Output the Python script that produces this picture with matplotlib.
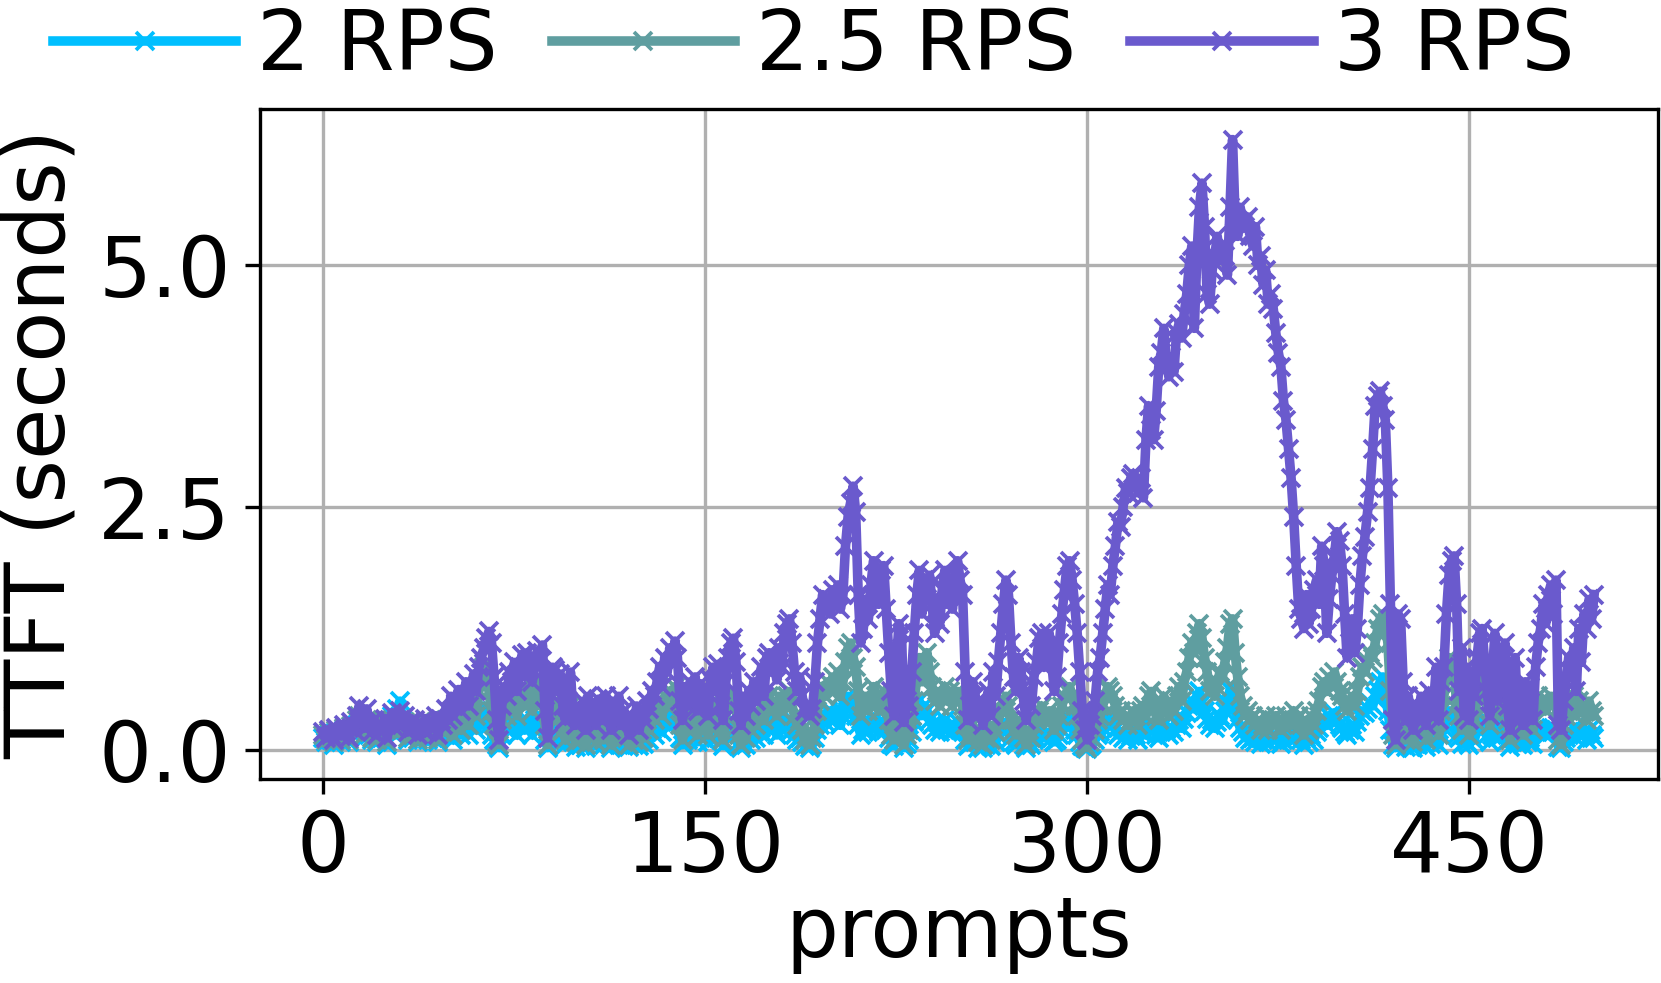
import numpy as np
import matplotlib
matplotlib.use("Agg")
import matplotlib.pyplot as plt

labels = ["2 RPS", "2.5 RPS", "3 RPS"]
colors = ["deepskyblue", "cadetblue", "slateblue"]

# TTFT per prompt, 2 RPS
ttft_2 = [
    0.12, 0.08, 0.15, 0.10, 0.05, 0.18, 0.12, 0.08, 0.20, 0.14, 0.08, 0.20, 0.15, 0.25, 0.30, 0.22, 0.12, 0.28, 0.18, 0.10,
    0.22, 0.08, 0.18, 0.12, 0.25, 0.05, 0.20, 0.35, 0.15, 0.42, 0.50, 0.30, 0.25, 0.10, 0.18, 0.12, 0.20, 0.08, 0.18, 0.12,
    0.20, 0.10, 0.18, 0.12, 0.22, 0.08, 0.18, 0.15, 0.25, 0.15, 0.25, 0.10, 0.22, 0.30, 0.15, 0.25, 0.30, 0.15, 0.35, 0.30,
    0.20, 0.30, 0.35, 0.45, 0.30, 0.25, 0.15, 0.10, 0.05, 0.02, 0.15, 0.25, 0.20, 0.30, 0.20, 0.35, 0.15, 0.25, 0.30, 0.20,
    0.30, 0.25, 0.15, 0.30, 0.35, 0.25, 0.30, 0.10, 0.02, 0.15, 0.20, 0.30, 0.15, 0.20, 0.10, 0.05, 0.12, 0.25, 0.08, 0.03,
    0.10, 0.05, 0.15, 0.02, 0.18, 0.08, 0.12, 0.04, 0.15, 0.10, 0.05, 0.15, 0.10, 0.02, 0.12, 0.08, 0.18, 0.05, 0.10, 0.06,
    0.03, 0.08, 0.05, 0.15, 0.04, 0.10, 0.06, 0.18, 0.10, 0.20, 0.15, 0.22, 0.30, 0.18, 0.30, 0.25, 0.35, 0.25, 0.30, 0.28,
    0.12, 0.05, 0.18, 0.10, 0.20, 0.15, 0.22, 0.08, 0.18, 0.12, 0.15, 0.08, 0.20, 0.25, 0.12, 0.22, 0.10, 0.04, 0.15, 0.25,
    0.30, 0.28, 0.20, 0.08, 0.02, 0.12, 0.05, 0.15, 0.10, 0.18, 0.12, 0.18, 0.22, 0.15, 0.25, 0.30, 0.20, 0.22, 0.15, 0.28,
    0.20, 0.25, 0.30, 0.28, 0.20, 0.15, 0.10, 0.12, 0.08, 0.04, 0.06, 0.02, 0.05, 0.12, 0.20, 0.25, 0.35, 0.28, 0.40, 0.30,
    0.38, 0.30, 0.42, 0.25, 0.35, 0.45, 0.55, 0.50, 0.40, 0.35, 0.25, 0.15, 0.20, 0.28, 0.18, 0.22, 0.30, 0.25, 0.18, 0.22,
    0.28, 0.20, 0.12, 0.06, 0.04, 0.12, 0.20, 0.18, 0.02, 0.06, 0.10, 0.18, 0.28, 0.40, 0.50, 0.35, 0.45, 0.40, 0.30, 0.25,
    0.20, 0.28, 0.18, 0.22, 0.30, 0.20, 0.25, 0.18, 0.22, 0.28, 0.20, 0.18, 0.10, 0.04, 0.06, 0.12, 0.08, 0.02, 0.06, 0.02,
    0.05, 0.10, 0.04, 0.12, 0.08, 0.15, 0.20, 0.25, 0.28, 0.20, 0.12, 0.08, 0.05, 0.12, 0.10, 0.05, 0.02, 0.08, 0.05, 0.10,
    0.12, 0.18, 0.22, 0.12, 0.15, 0.18, 0.12, 0.08, 0.10, 0.15, 0.20, 0.25, 0.30, 0.32, 0.25, 0.20, 0.15, 0.08, 0.04, 0.02,
    0.01, 0.04, 0.06, 0.10, 0.15, 0.18, 0.22, 0.28, 0.32, 0.30, 0.25, 0.20, 0.15, 0.18, 0.12, 0.15, 0.10, 0.14, 0.18, 0.15,
    0.10, 0.18, 0.20, 0.15, 0.25, 0.28, 0.20, 0.15, 0.12, 0.18, 0.25, 0.20, 0.15, 0.22, 0.18, 0.25, 0.30, 0.22, 0.32, 0.38,
    0.45, 0.50, 0.42, 0.55, 0.60, 0.48, 0.40, 0.32, 0.25, 0.30, 0.22, 0.28, 0.35, 0.30, 0.40, 0.48, 0.62, 0.65, 0.45, 0.32,
    0.22, 0.18, 0.12, 0.15, 0.10, 0.12, 0.08, 0.12, 0.06, 0.10, 0.15, 0.08, 0.12, 0.10, 0.15, 0.12, 0.06, 0.10, 0.15, 0.12,
    0.10, 0.18, 0.12, 0.15, 0.10, 0.05, 0.12, 0.08, 0.15, 0.10, 0.18, 0.22, 0.30, 0.32, 0.25, 0.35, 0.28, 0.38, 0.30, 0.25,
    0.22, 0.18, 0.15, 0.20, 0.25, 0.18, 0.28, 0.35, 0.40, 0.38, 0.42, 0.48, 0.45, 0.55, 0.62, 0.70, 0.75, 0.60, 0.40, 0.20,
    0.05, 0.02, 0.10, 0.15, 0.08, 0.03, 0.10, 0.05, 0.02, 0.08, 0.05, 0.12, 0.06, 0.03, 0.12, 0.06, 0.10, 0.18, 0.05, 0.15,
    0.22, 0.35, 0.40, 0.38, 0.35, 0.15, 0.12, 0.06, 0.15, 0.08, 0.05, 0.12, 0.10, 0.22, 0.28, 0.32, 0.25, 0.15, 0.08, 0.15,
    0.25, 0.12, 0.20, 0.18, 0.22, 0.10, 0.03, 0.12, 0.18, 0.06, 0.10, 0.05, 0.15, 0.08, 0.12, 0.06, 0.18, 0.22, 0.20, 0.18,
    0.15, 0.20, 0.22, 0.18, 0.20, 0.03, 0.02, 0.08, 0.12, 0.15, 0.18, 0.22, 0.12, 0.20, 0.15, 0.18, 0.10, 0.20, 0.15, 0.12,
]

# TTFT per prompt, 2.5 RPS
ttft_25 = [
    0.15, 0.10, 0.18, 0.12, 0.08, 0.20, 0.14, 0.10, 0.22, 0.16, 0.10, 0.24, 0.18, 0.30, 0.35, 0.25, 0.15, 0.30, 0.20, 0.12,
    0.25, 0.10, 0.20, 0.15, 0.28, 0.08, 0.22, 0.30, 0.18, 0.25, 0.30, 0.20, 0.28, 0.12, 0.22, 0.15, 0.25, 0.10, 0.20, 0.15,
    0.25, 0.12, 0.20, 0.15, 0.28, 0.10, 0.22, 0.18, 0.30, 0.20, 0.35, 0.15, 0.30, 0.40, 0.20, 0.35, 0.45, 0.25, 0.50, 0.55,
    0.35, 0.60, 0.70, 0.85, 0.75, 0.60, 0.40, 0.25, 0.08, 0.05, 0.30, 0.45, 0.35, 0.55, 0.40, 0.60, 0.35, 0.50, 0.65, 0.45,
    0.60, 0.50, 0.40, 0.55, 0.70, 0.50, 0.60, 0.25, 0.05, 0.35, 0.45, 0.50, 0.30, 0.40, 0.20, 0.10, 0.25, 0.45, 0.15, 0.08,
    0.20, 0.10, 0.25, 0.05, 0.30, 0.15, 0.25, 0.08, 0.30, 0.20, 0.10, 0.30, 0.20, 0.05, 0.25, 0.15, 0.30, 0.10, 0.20, 0.12,
    0.05, 0.15, 0.10, 0.25, 0.08, 0.20, 0.12, 0.30, 0.20, 0.35, 0.30, 0.40, 0.50, 0.35, 0.55, 0.45, 0.60, 0.50, 0.65, 0.55,
    0.25, 0.10, 0.35, 0.20, 0.40, 0.30, 0.45, 0.15, 0.40, 0.25, 0.35, 0.15, 0.40, 0.50, 0.30, 0.45, 0.20, 0.10, 0.35, 0.50,
    0.55, 0.60, 0.45, 0.15, 0.05, 0.25, 0.12, 0.30, 0.20, 0.35, 0.25, 0.35, 0.45, 0.30, 0.50, 0.55, 0.40, 0.45, 0.35, 0.55,
    0.40, 0.50, 0.55, 0.60, 0.45, 0.35, 0.25, 0.30, 0.20, 0.10, 0.15, 0.05, 0.12, 0.25, 0.40, 0.50, 0.65, 0.55, 0.70, 0.60,
    0.75, 0.60, 0.80, 0.55, 0.70, 0.90, 1.05, 1.10, 0.95, 0.85, 0.60, 0.35, 0.45, 0.55, 0.40, 0.50, 0.65, 0.55, 0.40, 0.50,
    0.60, 0.45, 0.30, 0.15, 0.10, 0.30, 0.45, 0.40, 0.05, 0.15, 0.20, 0.35, 0.50, 0.75, 0.95, 0.70, 0.85, 1.00, 0.80, 0.65,
    0.50, 0.60, 0.45, 0.55, 0.65, 0.50, 0.60, 0.45, 0.55, 0.60, 0.50, 0.45, 0.25, 0.10, 0.15, 0.25, 0.20, 0.08, 0.15, 0.05,
    0.12, 0.20, 0.10, 0.25, 0.18, 0.30, 0.40, 0.50, 0.55, 0.45, 0.30, 0.20, 0.15, 0.30, 0.25, 0.12, 0.05, 0.20, 0.12, 0.25,
    0.30, 0.40, 0.45, 0.30, 0.35, 0.40, 0.30, 0.20, 0.25, 0.35, 0.45, 0.55, 0.60, 0.65, 0.55, 0.45, 0.35, 0.20, 0.10, 0.05,
    0.02, 0.08, 0.12, 0.20, 0.30, 0.35, 0.45, 0.55, 0.65, 0.60, 0.55, 0.45, 0.35, 0.40, 0.30, 0.35, 0.25, 0.30, 0.40, 0.35,
    0.25, 0.40, 0.45, 0.35, 0.55, 0.60, 0.45, 0.35, 0.30, 0.40, 0.55, 0.45, 0.35, 0.50, 0.40, 0.55, 0.65, 0.50, 0.70, 0.80,
    0.95, 1.10, 1.00, 1.20, 1.30, 1.15, 0.95, 0.80, 0.60, 0.70, 0.55, 0.65, 0.80, 0.75, 0.90, 1.05, 1.30, 1.35, 1.00, 0.75,
    0.55, 0.45, 0.35, 0.40, 0.30, 0.35, 0.25, 0.30, 0.20, 0.25, 0.35, 0.20, 0.30, 0.25, 0.35, 0.30, 0.20, 0.25, 0.35, 0.30,
    0.25, 0.40, 0.30, 0.35, 0.25, 0.15, 0.30, 0.20, 0.35, 0.25, 0.40, 0.50, 0.65, 0.70, 0.60, 0.75, 0.65, 0.80, 0.70, 0.60,
    0.55, 0.45, 0.40, 0.50, 0.55, 0.45, 0.60, 0.75, 0.85, 0.80, 0.90, 1.00, 0.95, 1.10, 1.25, 1.35, 1.40, 1.30, 1.10, 0.60,
    0.15, 0.05, 0.30, 0.40, 0.25, 0.10, 0.30, 0.15, 0.08, 0.25, 0.15, 0.30, 0.20, 0.10, 0.35, 0.20, 0.30, 0.45, 0.15, 0.40,
    0.55, 0.80, 0.95, 0.90, 0.85, 0.45, 0.35, 0.20, 0.40, 0.25, 0.15, 0.35, 0.30, 0.55, 0.70, 0.80, 0.65, 0.45, 0.25, 0.40,
    0.65, 0.35, 0.55, 0.50, 0.60, 0.30, 0.10, 0.35, 0.50, 0.20, 0.30, 0.15, 0.40, 0.25, 0.35, 0.20, 0.45, 0.55, 0.50, 0.45,
    0.40, 0.50, 0.55, 0.45, 0.50, 0.10, 0.05, 0.25, 0.35, 0.40, 0.45, 0.55, 0.35, 0.50, 0.40, 0.45, 0.30, 0.50, 0.40, 0.35,
]

# TTFT per prompt, 3 RPS
ttft_3 = [
    0.18, 0.12, 0.20, 0.15, 0.10, 0.22, 0.17, 0.14, 0.25, 0.19, 0.12, 0.28, 0.20, 0.35, 0.45, 0.30, 0.22, 0.42, 0.25, 0.18,
    0.30, 0.15, 0.25, 0.20, 0.32, 0.12, 0.28, 0.38, 0.22, 0.30, 0.40, 0.25, 0.35, 0.18, 0.28, 0.22, 0.30, 0.15, 0.26, 0.20,
    0.32, 0.18, 0.28, 0.22, 0.35, 0.15, 0.30, 0.25, 0.42, 0.30, 0.55, 0.35, 0.48, 0.62, 0.40, 0.55, 0.70, 0.45, 0.65, 0.78,
    0.60, 0.85, 0.95, 1.05, 1.15, 1.22, 1.10, 0.75, 0.30, 0.10, 0.45, 0.65, 0.55, 0.80, 0.70, 0.90, 0.60, 0.85, 0.98, 0.75,
    1.00, 0.95, 0.70, 0.88, 1.02, 0.90, 1.08, 0.40, 0.12, 0.65, 0.85, 0.82, 0.60, 0.78, 0.45, 0.30, 0.50, 0.80, 0.35, 0.25,
    0.45, 0.30, 0.50, 0.20, 0.55, 0.35, 0.48, 0.25, 0.52, 0.40, 0.30, 0.55, 0.45, 0.20, 0.50, 0.35, 0.55, 0.25, 0.40, 0.30,
    0.15, 0.35, 0.25, 0.45, 0.20, 0.38, 0.30, 0.50, 0.42, 0.60, 0.55, 0.70, 0.85, 0.65, 0.95, 0.80, 1.05, 0.90, 1.12, 0.95,
    0.50, 0.30, 0.65, 0.45, 0.70, 0.55, 0.75, 0.40, 0.68, 0.50, 0.60, 0.35, 0.72, 0.85, 0.60, 0.88, 0.45, 0.30, 0.70, 0.95,
    1.10, 1.15, 0.90, 0.40, 0.25, 0.55, 0.35, 0.60, 0.45, 0.70, 0.50, 0.65, 0.85, 0.55, 0.95, 1.00, 0.80, 0.90, 0.72, 1.05,
    0.85, 1.20, 1.30, 1.35, 1.10, 0.80, 0.60, 0.75, 0.55, 0.40, 0.45, 0.35, 0.42, 0.70, 1.10, 1.35, 1.60, 1.45, 1.55, 1.40,
    1.65, 1.50, 1.70, 1.45, 1.60, 2.10, 2.40, 2.55, 2.72, 2.45, 1.60, 1.10, 1.25, 1.55, 1.35, 1.70, 1.95, 1.80, 1.50, 1.85,
    1.90, 1.45, 1.00, 0.60, 0.35, 0.90, 1.30, 1.20, 0.28, 0.50, 0.45, 0.80, 1.20, 1.60, 1.85, 1.40, 1.75, 1.55, 1.80, 1.50,
    1.20, 1.45, 1.30, 1.65, 1.85, 1.50, 1.70, 1.45, 1.80, 1.95, 1.75, 1.60, 0.80, 0.30, 0.45, 0.70, 0.55, 0.35, 0.50, 0.25,
    0.45, 0.60, 0.35, 0.80, 0.55, 0.90, 1.20, 1.50, 1.75, 1.60, 1.10, 0.75, 0.60, 0.95, 0.80, 0.50, 0.30, 0.60, 0.45, 0.75,
    0.90, 1.15, 1.20, 0.85, 1.05, 1.20, 0.90, 0.60, 0.75, 1.10, 1.40, 1.65, 1.90, 1.95, 1.75, 1.50, 1.20, 0.80, 0.40, 0.20,
    0.10, 0.25, 0.35, 0.50, 0.80, 0.95, 1.20, 1.45, 1.70, 1.60, 1.90, 2.10, 2.35, 2.30, 2.50, 2.70, 2.65, 2.80, 2.85, 2.75,
    2.65, 2.80, 2.60, 3.20, 3.55, 3.30, 3.20, 3.50, 3.95, 4.10, 4.35, 4.00, 3.85, 4.05, 3.90, 4.30, 4.40, 4.25, 4.50, 4.70,
    5.00, 5.20, 4.35, 5.10, 5.60, 5.85, 5.40, 4.70, 4.60, 4.95, 5.10, 5.30, 5.05, 5.20, 5.10, 4.90, 5.60, 6.30, 5.50, 5.30,
    5.60, 5.45, 5.40, 5.50, 5.30, 5.20, 5.40, 5.00, 5.10, 4.80, 4.95, 4.60, 4.70, 4.55, 4.30, 4.10, 3.95, 3.60, 3.40, 3.10,
    2.80, 2.40, 1.90, 1.45, 1.35, 1.25, 1.60, 1.30, 1.45, 1.65, 1.75, 1.50, 2.10, 1.90, 1.20, 1.55, 1.80, 2.00, 2.25, 2.15,
    1.90, 1.40, 0.95, 1.10, 1.35, 1.00, 1.25, 1.70, 2.00, 2.20, 2.45, 2.70, 3.10, 3.55, 3.65, 3.70, 3.55, 3.40, 2.70, 1.50,
    0.30, 0.10, 1.40, 1.35, 0.70, 0.30, 0.55, 0.35, 0.20, 0.45, 0.30, 0.55, 0.40, 0.25, 0.60, 0.35, 0.50, 0.85, 0.30, 0.70,
    0.85, 1.40, 1.80, 1.95, 2.00, 1.50, 0.60, 1.05, 0.35, 0.85, 0.30, 0.70, 0.55, 0.95, 1.20, 1.25, 0.90, 0.60, 0.35, 0.75,
    1.20, 0.50, 1.05, 0.80, 1.10, 0.45, 0.20, 0.60, 0.95, 0.30, 0.55, 0.25, 0.70, 0.40, 0.65, 0.30, 0.85, 1.10, 1.25, 1.50,
    1.30, 1.60, 1.70, 1.40, 1.75, 0.25, 0.20, 0.50, 0.70, 0.95, 0.80, 1.05, 0.60, 1.25, 0.90, 1.40, 1.25, 1.55, 1.35, 1.60,
]

prompts = np.arange(len(ttft_3))

plt.rcParams['font.size'] = 20
fig, ax = plt.subplots(figsize=(1661 / 300, 983 / 300), dpi=300)
fig.subplots_adjust(left=0.1565, right=0.998, top=0.889, bottom=0.2075)

for y, lab, c in zip([ttft_2, ttft_25, ttft_3], labels, colors):
    ax.plot(prompts, y, color=c, label=lab, marker='x', markersize=4.2,
            markeredgewidth=0.9, linewidth=2.3)

ax.set_xticks([0, 150, 300, 450])
ax.set_yticks([0.0, 2.5, 5.0])
ax.set_xlabel("prompts", labelpad=1)
ax.set_ylabel("TTFT (seconds)")
ax.grid(True)

fig.legend(loc='upper center', bbox_to_anchor=(0.49, 1.07), ncol=3, frameon=False,
           handlelength=2.2, handletextpad=0.25, columnspacing=0.65)

fig.savefig("out.png", dpi=300)
